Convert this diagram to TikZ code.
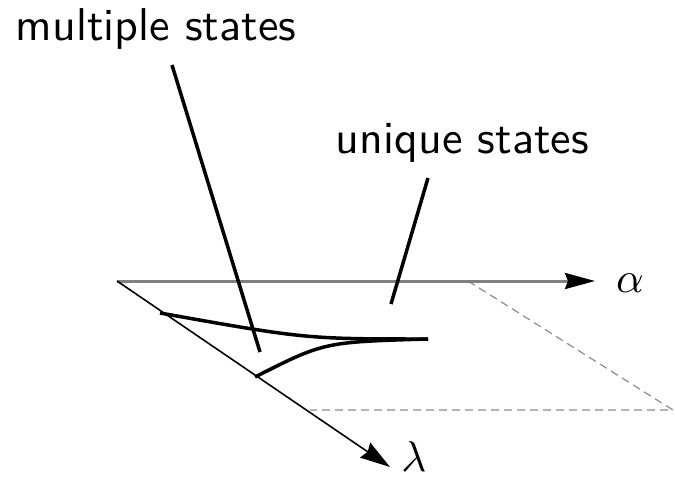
\documentclass[tikz,border=0pt]{standalone}
\usetikzlibrary{arrows.meta}

\begin{document}
\begin{tikzpicture}[x=1pt, y=-1pt,
  big/.style={scale=4.3, inner sep=0pt},
  lbl/.style={scale=4.6, font=\sffamily, anchor=base west, inner sep=0pt},
  lead/.style={line width=3.5pt},
  rim/.style={gray!90, line width=1.2pt, dash pattern=on 8pt off 5pt}]
  \useasboundingbox (0,0) rectangle (675,483);
  \coordinate (O) at (117,281);
  \coordinate (A) at (595,281);
  \coordinate (L) at (390,467);
  % far corners of the parameter sheet
  \coordinate (P) at (468,281);
  \coordinate (Q) at (673,410);
  \coordinate (R) at (310,410);
  % cusp
  \coordinate (K) at (428,339);
  \coordinate (U) at (160,313);
  \coordinate (V) at (255,377);

  \draw[rim] (P) -- (Q) -- (R);
  \draw[gray, line width=3pt, -{Stealth[color=black, length=30pt, width=16pt, inset=3pt]}] (O) -- (A);
  \draw[line width=1.6pt, -{Stealth[length=30pt, width=18pt, inset=3pt]}] (O) -- (L);

  \draw[line width=3.5pt] (U) .. controls (306,339) .. (K);
  \draw[line width=3.5pt] (V) .. controls (324,342) .. (K);

  \node[big] (alpha) at (630,283) {$\alpha$};
  \node[big] (lambda) at (414,457) {$\lambda$};

  \node[lbl] (multi) at (15,40) {multiple states};
  \node[lbl] (uniq) at (335,153) {unique states};
  \coordinate (m1) at (172,65);
  \coordinate (m2) at (260,352);
  \coordinate (u1) at (428,178);
  \coordinate (u2) at (391,304);
  \draw[lead] (m1) -- (m2);
  \draw[lead] (u1) -- (u2);
\end{tikzpicture}
\end{document}
